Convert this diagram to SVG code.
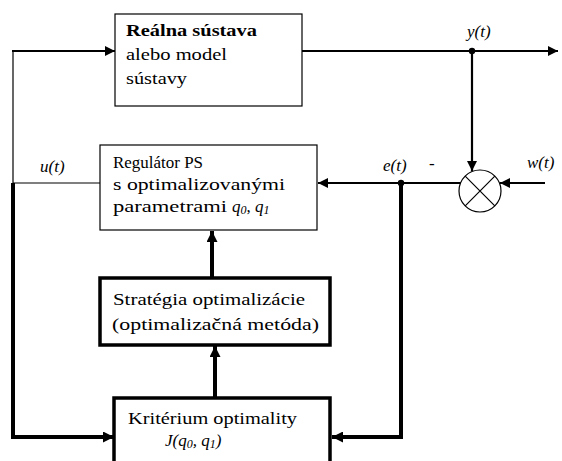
<svg xmlns="http://www.w3.org/2000/svg" width="562" height="461" viewBox="0 0 562 461">
<style>
  .box{fill:#fff;stroke:#000;stroke-width:1.2}
  .tbox{fill:#fff;stroke:#000;stroke-width:3.5}
  text{font-family:'Liberation Serif','DejaVu Serif',serif;font-size:17px;fill:#000}
  .b{font-weight:bold}
  .i{font-style:italic}
  .thin{stroke:#000;stroke-width:1.2;fill:none}
  .med{stroke:#000;stroke-width:2.2;fill:none}
  .thick{stroke:#000;stroke-width:4;fill:none}
</style>
<defs>
  <marker id="ah" viewBox="0 0 10 10" refX="10" refY="5" markerWidth="10" markerHeight="10" markerUnits="userSpaceOnUse" orient="auto">
    <path d="M0,0 L10,5 L0,10 z" fill="#000"/>
  </marker>
  <marker id="ahb" viewBox="0 0 10 10" refX="10" refY="5" markerWidth="11" markerHeight="11" markerUnits="userSpaceOnUse" orient="auto">
    <path d="M0,0 L10,5 L0,10 z" fill="#000"/>
  </marker>
</defs>

<g id="connectors">
  <path class="med" d="M302,51 H558" marker-end="url(#ah)"/>
  <path class="med" d="M472,51 V171" marker-end="url(#ah)"/>
  <path class="med" d="M545,183 H500" marker-end="url(#ah)"/>
  <path class="med" d="M461,183 H318" marker-end="url(#ah)"/>
  <path class="thick" d="M401,183 V437 H332" marker-end="url(#ahb)"/>
  <path class="thin" d="M100,183 H13"/>
  <path class="thin" d="M13,185 V51"/>
  <path class="med" d="M12,51 H115" marker-end="url(#ah)"/>
  <path class="thick" d="M13,183 V437 H114" marker-end="url(#ahb)"/>
  <path class="thick" d="M215,397 V346" marker-end="url(#ahb)"/>
  <path class="thick" d="M212,277 V231" marker-end="url(#ahb)"/>
  <circle cx="472" cy="51" r="3.2" fill="#000"/>
  <circle cx="401" cy="183" r="3.2" fill="#000"/>
  <text class="i" x="467" y="37">y(t)</text>
  <text class="i" x="383" y="171">e(t)</text>
  <text x="429" y="169">-</text>
  <text class="i" x="527" y="168">w(t)</text>
  <text class="i" x="40" y="172">u(t)</text>
</g>

<g id="plant">
  <rect class="box" x="115" y="14" width="187" height="92"/>
  <text class="b" x="126" y="36" textLength="131" lengthAdjust="spacingAndGlyphs">Reálna sústava</text>
  <text x="126" y="60" textLength="101" lengthAdjust="spacingAndGlyphs">alebo model</text>
  <text x="126" y="84" textLength="61" lengthAdjust="spacingAndGlyphs">sústavy</text>
</g>

<g id="regulator">
  <rect class="box" x="100" y="145" width="217" height="85"/>
  <text x="113" y="168" textLength="90" lengthAdjust="spacingAndGlyphs">Regulátor PS</text>
  <text x="113" y="190" textLength="172" lengthAdjust="spacingAndGlyphs">s optimalizovanými</text>
  <text x="113" y="212"><tspan textLength="114" lengthAdjust="spacingAndGlyphs">parametrami</tspan><tspan class="i" dx="5">q</tspan><tspan class="i" font-size="12" dy="2">0</tspan><tspan dy="-2">, </tspan><tspan class="i">q</tspan><tspan class="i" font-size="12" dy="2">1</tspan></text>
</g>

<g id="summation">
  <circle cx="480" cy="191" r="21" fill="#fff" stroke="#000" stroke-width="1.2"/>
  <path class="thin" d="M465.2,176.2 L494.8,205.8 M494.8,176.2 L465.2,205.8"/>
</g>

<g id="strategy">
  <rect class="tbox" x="100" y="278" width="230" height="67"/>
  <text x="113" y="305" textLength="192" lengthAdjust="spacingAndGlyphs">Stratégia optimalizácie</text>
  <text x="112" y="330" textLength="207" lengthAdjust="spacingAndGlyphs">(optimalizačná metóda)</text>
</g>

<g id="criterion">
  <rect class="tbox" x="114" y="398" width="216" height="70"/>
  <text x="128" y="424" textLength="169" lengthAdjust="spacingAndGlyphs">Kritérium optimality</text>
  <text class="i" x="165" y="446">J(<tspan>q</tspan><tspan font-size="12" dy="2">0</tspan><tspan dy="-2">, q</tspan><tspan font-size="12" dy="2">1</tspan><tspan dy="-2">)</tspan></text>
</g>
</svg>
